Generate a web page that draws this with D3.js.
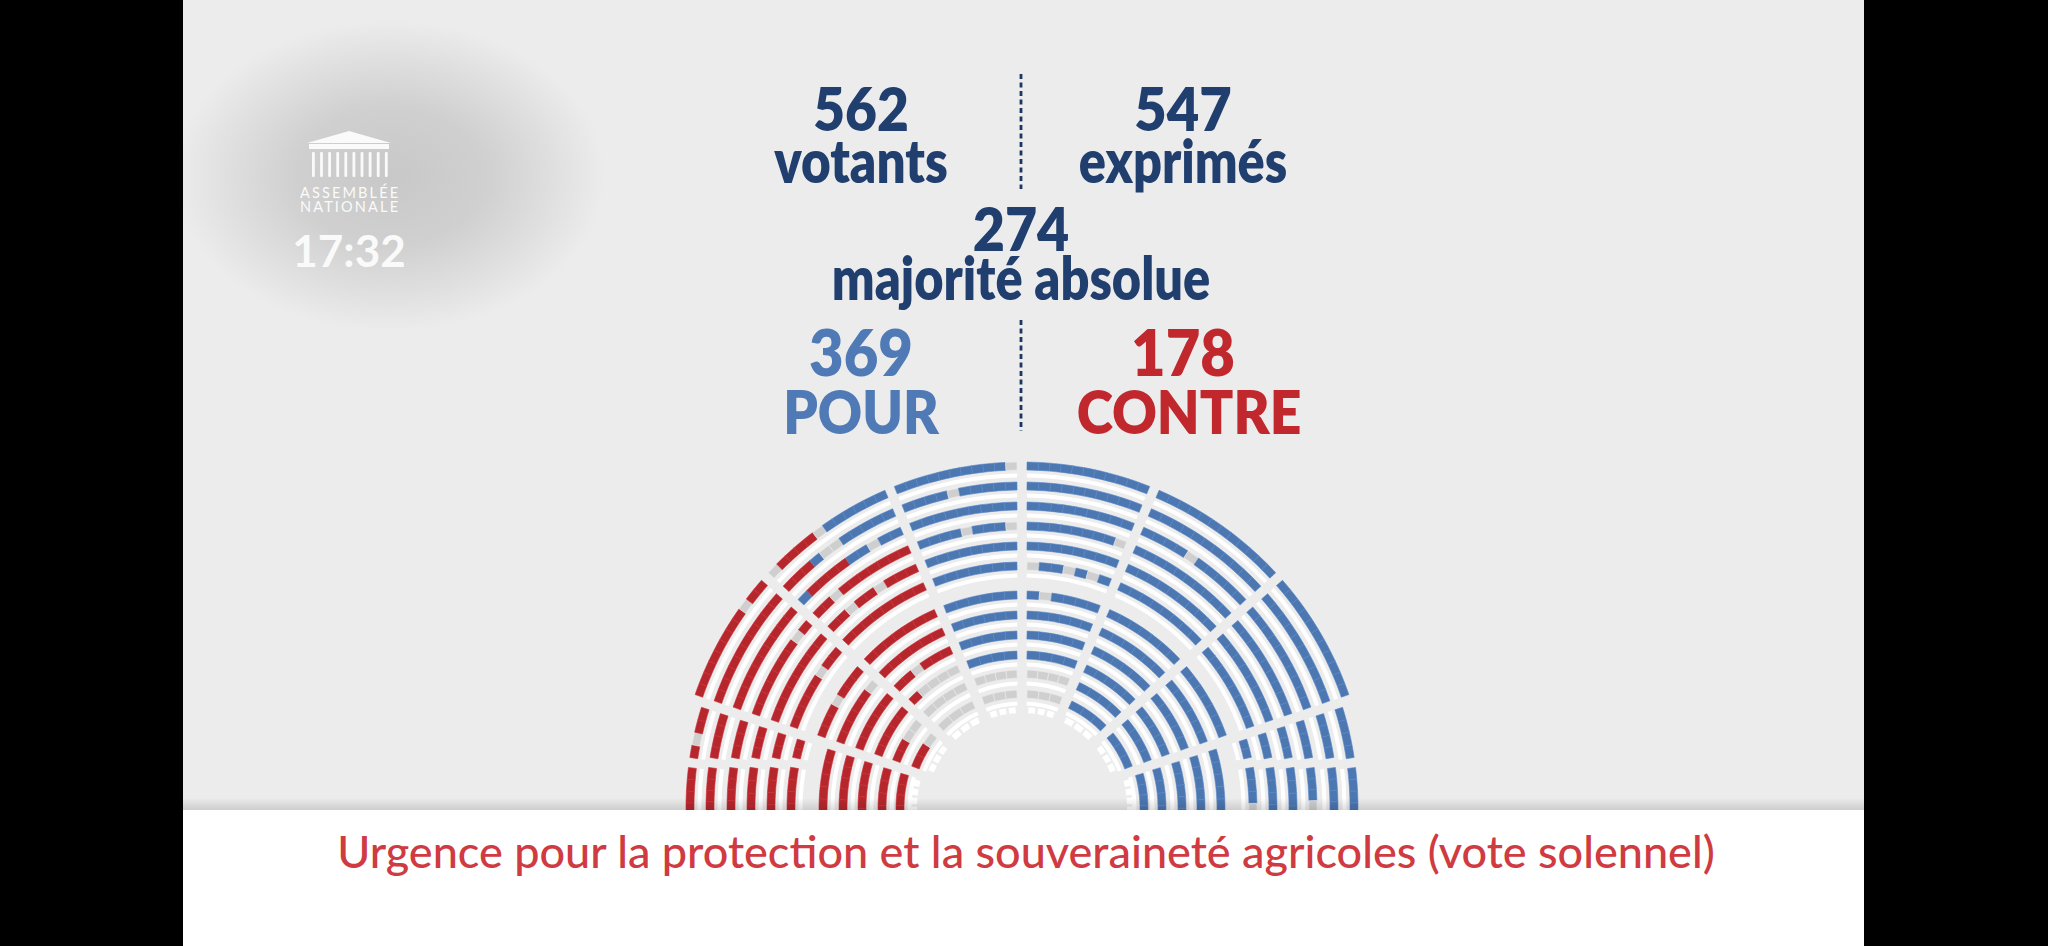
<!doctype html>
<html>
<head>
<meta charset="utf-8">
<script src="https://cdn.jsdelivr.net/npm/d3@7"></script>
<style>
  html, body { margin: 0; padding: 0; background: #000; }
  svg { display: block; }
</style>
</head>
<body>
<svg id="chart" width="2048" height="946"></svg>
<script>
// ---------- data ----------
var topCounts = [562, 547];
var topLabels = ["votants", "exprimés"];
var majorityCount = 274;
var majorityLabel = "majorité absolue";
var resultCounts = [369, 178];
var resultLabels = ["POUR", "CONTRE"];
var voteTitle = "Urgence pour la protection et la souveraineté agricoles (vote solennel)";
var clockLabel = "17:32";
var logoLines = ["ASSEMBLÉE", "NATIONALE"];

// b = pour, r = contre, g = abstention, w = siège vide
var voteCodes = ["b", "r", "g", "w"];
var voteColors = ["#4c77b1", "#b6272d", "#cfcfcf", "#ffffff"];

// seats per row, outer row first, read left to right on screen
var seatsS5 = ["bbbbbbbbbbg","bbbbgbbbbb","bbbbbbbbb","bbbbgbbbg","bbbbbbbb","bbbbbbb","bbbbbb","bbbbbb","bbbbb","bbbb","gggg","ggg","www"];
var seatsS1 = ["bbbbbbbbbbb","bbbbbbbbbb","bbbbbbbbb","bbbbbbbbg","bbbbbbbb","gbbgbgb","bgbbbb","bbbbbb","bbbbb","bbbb","gggg","ggg","www"];
var seatsS6 = ["grrrrgbbbbbb","rrrbggbbbbb","brrrrbbgbb","rrgrrrrrrr","rrgrrgrrr","rrrrrrrr","rrrrrrr","rrrrrr","rrgrrr","rgggg","gggg","ggg","www"];
var seatsS2 = ["bbbbbbbbbbbb","bbbbbbbbbbb","bbbbgbbbbb","bbbbbbbbbb","bbbbbbbbb","bbbbbbbb","bbbbbbb","bbbbbb","bbbbbb","bbbbb","bbbb","bbb","www"];
var seatsS7 = ["rrrrrrrrgrr","rrrrrrrrrr","rrrrrrrrrr","rrrrrrrgr","rrrrrrrr","rrrrrgrr","rrrgrrr","rrrrrg","rrrrr","rrrrr","rrgg","rrg","www"];
var seatsS3 = ["bbbbbbbbbbb","bbbbbbbbbb","bbbbbbbbbb","bbbbbbbbb","bbbbbbbb","bbbbbbbb","bbbbbbb","bbbbbb","bbbbb","bbbbb","bbbb","bbb","www"];
var seatsS8in = ["rrrrrr","rrrrrr","rrrrr","rrrr","rrrr","wwww"];
var seatsS4in = ["bbbbbb","bbbbbb","bbbbb","bbbb","bbbb","wwww"];
var seatsS8a = ["rgrr","rrrr","rrr","rrr","rr","rr"];
var seatsS8b = ["rrrrrr","rrrrrr","rrrrrr","rrrrr","rrrrr","rrrrr"];
var seatsS4a = ["bbbb","bbbb","bbb","bbb","bb","bb"];
var seatsS4b = ["bbbbbb","bbbbbb","bbbgbb","bbbbb","bbbbb","bbbgb"];

// ---------- layout ----------
var W = 2048, H = 946;
var cx = 1022, cy = 808;
var aisle = 10;
var ringsStd = [342, 322, 302, 282, 262, 242, 213, 193, 173, 153, 134, 114];
var ringsLowOut = [332, 312, 291, 271, 251, 231];
var ringsLowIn = [199, 179, 160, 140, 122];
var navy = "#213f6e";
var font = "Lato, 'Open Sans', sans-serif";

function asinDeg(v) { return Math.asin(v) * 180 / Math.PI; }
function splitHi(r) { return asinDeg(45 / r); }
function splitLo(r) { return 180 - asinDeg(45 / r); }

var sectors = [
  {seats: seatsS5, hi: 112.5, lo: 90, radii: ringsStd, white: 98},
  {seats: seatsS1, hi: 90, lo: 67.5, radii: ringsStd, white: 98},
  {seats: seatsS6, hi: 138, lo: 112.5, radii: ringsStd, white: 98},
  {seats: seatsS2, hi: 67.5, lo: 42, radii: ringsStd, white: 98},
  {seats: seatsS7, hi: 161.7, lo: 138, radii: ringsStd, white: 98},
  {seats: seatsS3, hi: 42, lo: 18.3, radii: ringsStd, white: 98},
  {seats: seatsS8in, hi: 186, lo: 161.7, radii: ringsLowIn, white: 108},
  {seats: seatsS4in, hi: 18.3, lo: -6, radii: ringsLowIn, white: 108},
  {seats: seatsS8a, hi: splitLo, lo: 161.7, radii: ringsLowOut},
  {seats: seatsS8b, hi: 186, lo: splitLo, radii: ringsLowOut},
  {seats: seatsS4a, hi: 18.3, lo: splitHi, radii: ringsLowOut},
  {seats: seatsS4b, hi: splitHi, lo: -6, radii: ringsLowOut}
];

var svg = d3.select("#chart");
var defs = svg.append("defs");

// frame and background
svg.append("rect").attr("width", W).attr("height", H).attr("fill", "#000");
svg.append("rect").attr("x", 183).attr("y", 0).attr("width", 1681).attr("height", H).attr("fill", "#ececec");

var blob = defs.append("radialGradient").attr("id", "blob");
blob.append("stop").attr("offset", "0%").attr("stop-color", "#c8c8c8");
blob.append("stop").attr("offset", "45%").attr("stop-color", "#d0d0d0");
blob.append("stop").attr("offset", "75%").attr("stop-color", "#dfdfdf");
blob.append("stop").attr("offset", "100%").attr("stop-color", "#ececec");
svg.append("ellipse").attr("cx", 390).attr("cy", 176).attr("rx", 215).attr("ry", 155).attr("fill", "url(#blob)");
svg.append("rect").attr("x", 0).attr("y", 0).attr("width", 183).attr("height", H).attr("fill", "#000");

// logo
var logo = svg.append("g").attr("fill", "#fafafa");
logo.append("path").attr("d", "M307,143 L349,131 L391,143 Z");
logo.append("rect").attr("x", 309).attr("y", 144).attr("width", 80).attr("height", 5);
d3.range(10).forEach(function(i) {
  logo.append("rect").attr("x", 312 + i * 8.1).attr("y", 152).attr("width", 2.8).attr("height", 25).attr("rx", 1);
});
logo.selectAll("text.logo").data(logoLines).join("text")
  .attr("class", "logo")
  .attr("x", 300).attr("y", function(d, i) { return 198 + i * 14; })
  .attr("textLength", 98).attr("lengthAdjust", "spacing")
  .style("font-family", font).style("font-weight", 400)
  .style("font-size", "14.5px").text(function(d) { return d; });
logo.append("text").attr("x", 349).attr("y", 267).attr("text-anchor", "middle")
  .style("font-family", font).style("font-weight", 700).style("font-size", "44px")
  .text(clockLabel);

// header numbers: fitted to the widths seen in the broadcast frame
function bigText(x, y, size, color, txt, width) {
  var t = svg.append("text").attr("x", x).attr("y", y).attr("text-anchor", "middle")
    .style("font-family", font).style("font-weight", 800).style("font-size", size + "px")
    .attr("fill", color).text(txt);
  if (t.node().getComputedTextLength() > 0) {
    t.attr("textLength", width + size * 0.06).attr("lengthAdjust", "spacingAndGlyphs");
  }
  return t;
}
var colX = d3.scaleOrdinal().domain([0, 1]).range([861, 1183]);
var topWidths = [92, 94], labelWidths = [170, 205];
topCounts.forEach(function(v, i) { bigText(colX(i), 131, 60, navy, v, topWidths[i]); });
topLabels.forEach(function(v, i) { bigText(colX(i), 183, 60, navy, v, labelWidths[i]); });
bigText(1021, 251, 60, navy, majorityCount, 93);
bigText(1021, 300, 60, navy, majorityLabel, 375);
var resultColor = ["#4f7ab6", "#c0282e"];
var resultWidths = [100, 100], resultLabelWidths = [152, 221];
resultCounts.forEach(function(v, i) { bigText(colX(i), 376, 64, resultColor[i], v, resultWidths[i]); });
resultLabels.forEach(function(v, i) { bigText(colX(i) + (i ? 6 : 0), 434, 61, resultColor[i], v, resultLabelWidths[i]); });

[[74, 189], [320, 431]].forEach(function(s) {
  svg.append("line").attr("x1", 1021).attr("x2", 1021).attr("y1", s[0]).attr("y2", s[1])
    .attr("stroke", "#1b3660").attr("stroke-width", 2.8).attr("stroke-dasharray", "5,3.5");
});

// ---------- hemicycle ----------
var seatColor = d3.scaleOrdinal().domain(voteCodes).range(voteColors);
var rad = Math.PI / 180;
function toArc(a) { return (90 - a) * rad; }
var arc = d3.arc();

var seatData = [], deskData = [];
sectors.forEach(function(sec) {
  sec.seats.forEach(function(row, k) {
    var isWhiteRow = k >= sec.radii.length;
    var r = isWhiteRow ? sec.white : sec.radii[k];
    var hi = typeof sec.hi === "function" ? sec.hi(r) : sec.hi;
    var lo = typeof sec.lo === "function" ? sec.lo(r) : sec.lo;
    var half = (aisle / 2) / r / rad;
    var ang = d3.scaleLinear().domain([0, row.length]).range([hi - half, lo + half]);
    if (!isWhiteRow) deskData.push({r: r, a0: hi - half, a1: lo + half});
    row.split("").forEach(function(code, i) {
      seatData.push({r: r, a0: ang(i), a1: ang(i + 1), code: code, small: isWhiteRow});
    });
  });
});

var hemi = svg.append("g").attr("transform", "translate(" + cx + "," + cy + ")");
hemi.selectAll("path.desk").data(deskData).join("path")
  .attr("class", "desk")
  .attr("d", function(d) {
    return arc({innerRadius: d.r - 11.5, outerRadius: d.r - 7.5, startAngle: toArc(d.a0), endAngle: toArc(d.a1)});
  })
  .attr("fill", "#ffffff");

hemi.selectAll("path.seat").data(seatData).join("path")
  .attr("class", "seat")
  .attr("d", function(d) {
    if (d.small) {
      var p = 1.3 / d.r / rad;
      return arc({innerRadius: d.r - 3, outerRadius: d.r + 3, startAngle: toArc(d.a0 - p), endAngle: toArc(d.a1 + p)});
    }
    return arc({innerRadius: d.r - 4, outerRadius: d.r + 4, startAngle: toArc(d.a0), endAngle: toArc(d.a1)});
  })
  .attr("fill", function(d) { return seatColor(d.code); })
  .attr("stroke", function(d) { return d.small ? "none" : d3.color(seatColor(d.code)).brighter(0.35); })
  .attr("stroke-width", 0.6);

// ---------- banner ----------
var shade = defs.append("linearGradient").attr("id", "shade").attr("x1", 0).attr("x2", 0).attr("y1", 0).attr("y2", 1);
shade.append("stop").attr("offset", "0%").attr("stop-color", "#000").attr("stop-opacity", 0);
shade.append("stop").attr("offset", "100%").attr("stop-color", "#000").attr("stop-opacity", 0.13);
svg.append("rect").attr("x", 183).attr("y", 798).attr("width", 1681).attr("height", 12).attr("fill", "url(#shade)");
svg.append("rect").attr("x", 183).attr("y", 810).attr("width", 1681).attr("height", 136).attr("fill", "#ffffff");

var title = svg.append("text").attr("x", 1026).attr("y", 868).attr("text-anchor", "middle")
  .style("font-family", font).style("font-weight", 500).style("font-size", "40px")
  .attr("fill", "#d03a41").text(voteTitle);
var tw = title.node().getComputedTextLength();
if (tw > 0) title.style("font-size", (40 * 1378 / tw) + "px");
</script>
</body>
</html>
